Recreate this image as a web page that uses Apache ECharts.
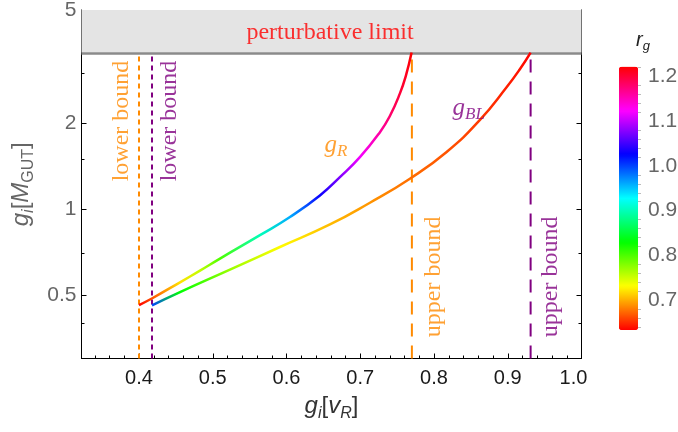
<!DOCTYPE html>
<html><head><meta charset="utf-8">
<script src="https://cdn.jsdelivr.net/npm/echarts@6/dist/echarts.min.js"></script>
<style>html,body{margin:0;padding:0;background:#fff}#c{width:678px;height:432px}</style>
</head><body><div id="c"></div>
<script>
// ---- data ----
const gR_x  = [0.400, 0.418, 0.4556, 0.4827, 0.5098, 0.5640, 0.6047, 0.6453, 0.6724, 0.6995, 0.7267, 0.740, 0.7538, 0.762, 0.7696];
const gR_y  = [0.462, 0.488, 0.555, 0.610, 0.672, 0.812, 0.940, 1.119, 1.297, 1.524, 1.865, 2.12, 2.55, 2.95, 3.545];
const gR_r  = [0.633, 0.665, 0.720, 0.755, 0.800, 0.900, 0.960, 1.030, 1.075, 1.120, 1.160, 1.180, 1.200, 1.210, 1.222];

const gBL_x = [0.4176, 0.4556, 0.5233, 0.5911, 0.6589, 0.7131, 0.7673, 0.8171, 0.8623, 0.8984, 0.9164, 0.931];
const gBL_y = [0.461, 0.513, 0.615, 0.738, 0.885, 1.055, 1.281, 1.590, 2.060, 2.68, 3.10, 3.545];
const gBL_r = [1.000, 0.830, 0.770, 0.730, 0.705, 0.690, 0.675, 0.665, 0.655, 0.645, 0.640, 0.633];

const perturbativeLimit = 3.545;
const boundValues = [0.400, 0.4176, 0.770, 0.931];   // gR lower, gBL lower, gR upper, gBL upper
const boundLabels = ['lower bound', 'lower bound', 'upper bound', 'upper bound'];

const xMajorTicks = [0.4, 0.5, 0.6, 0.7, 0.8, 0.9, 1.0];
const xMinorTicks = [0.34, 0.36, 0.38, 0.42, 0.44, 0.46, 0.48, 0.52, 0.54, 0.56, 0.58, 0.62, 0.64, 0.66, 0.68,
                     0.72, 0.74, 0.76, 0.78, 0.82, 0.84, 0.86, 0.88, 0.92, 0.94, 0.96, 0.98];
const yMajorTicks = [0.5, 1, 2, 5];
const yMinorTicks = [0.4, 0.7, 1.5, 3, 4];
const cbMajorTicks = [0.7, 0.8, 0.9, 1.0, 1.1, 1.2];
const cbMinorTicks = [0.64, 0.66, 0.68, 0.72, 0.74, 0.76, 0.78, 0.82, 0.84, 0.86, 0.88, 0.92, 0.94, 0.96, 0.98,
                      1.02, 1.04, 1.06, 1.08, 1.12, 1.14, 1.16, 1.18, 1.22];
const rMin = 0.633, rMax = 1.222;
const xMin = 0.322, xMax = 1.0, yMin = 0.3, yMax = 5;

// ---- helpers ----
const ORANGE = '#ff8a00', PURPLE = '#800080';
const hueStops = ['#ff0000', '#ffff00', '#00ff00', '#00ffff', '#0000ff', '#ff00ff', '#ff0000'];
function hueColor(r) {
  let h = (r - rMin) / (rMax - rMin);
  h = Math.max(0, Math.min(1, h)) * 6;
  const i = Math.min(5, Math.floor(h)), f = h - i;
  const seg = [[1, f, 0], [1 - f, 1, 0], [0, 1, f], [0, 1 - f, 1], [f, 0, 1], [1, 0, 1 - f]][i];
  return 'rgb(' + seg.map(v => Math.round(v * 255)).join(',') + ')';
}
function curveRenderer(xs, ys, rs) {
  return function (params, api) {
    if (params.dataIndex !== 0) return null;
    const pts = xs.map((x, i) => api.coord([x, ys[i]]));
    const p0 = pts[0], pn = pts[pts.length - 1];
    const dx = pn[0] - p0[0], dy = pn[1] - p0[1], L2 = dx * dx + dy * dy;
    let last = 0;
    const stops = pts.map((p, i) => {
      let t = ((p[0] - p0[0]) * dx + (p[1] - p0[1]) * dy) / L2;
      t = Math.max(last, Math.min(1, t)); last = t;
      return { offset: t, color: hueColor(rs[i]) };
    });
    return {
      type: 'polyline',
      shape: { points: pts, smooth: 0.5 },
      style: { fill: null, lineWidth: 2.5,
        stroke: new echarts.graphic.LinearGradient(p0[0], p0[1], pn[0], pn[1], stops, true) }
    };
  };
}
const frame = { show: true, lineStyle: { color: '#000', width: 1 } };
const fmt1 = v => v.toFixed(1);
const SANS = 'Liberation Sans', SERIF = 'Liberation Serif';

function xAx(pos, ticks, len, labels, extra) {
  return Object.assign({
    type: 'value', gridIndex: 0, position: pos, min: xMin, max: xMax,
    axisLine: labels !== null ? frame : { show: false },
    splitLine: { show: false },
    axisTick: { show: true, inside: true, length: len, customValues: ticks, lineStyle: { color: '#000', width: 1 } },
    axisLabel: { show: false }
  }, extra || {});
}
function yAx(pos, ticks, len, line, extra) {
  return Object.assign({
    type: 'log', logBase: 10, gridIndex: 0, position: pos, min: yMin, max: yMax,
    axisLine: line ? frame : { show: false },
    splitLine: { show: false }, minorTick: { show: false },
    axisTick: { show: true, inside: true, length: len, customValues: ticks, lineStyle: { color: '#000', width: 1 } },
    axisLabel: { show: false }
  }, extra || {});
}

const chart = echarts.init(document.getElementById('c'), null, { renderer: 'canvas' });
chart.setOption({
  animation: false,
  backgroundColor: '#fff',
  title: {
    text: '{r|r}{s|g}', left: 636, top: 27, padding: 0,
    textStyle: { fontWeight: 'normal', rich: {
      r: { fontFamily: SANS, fontStyle: 'italic', fontWeight: 'normal', fontSize: 20, color: '#222', lineHeight: 26, verticalAlign: 'middle' },
      s: { fontFamily: SANS, fontStyle: 'italic', fontWeight: 'normal', fontSize: 13, color: '#222', lineHeight: 26, verticalAlign: 'bottom' } } }
  },
  grid: [
    { left: 81.5, top: 10, width: 500, height: 348.5, outerBoundsMode: 'none' },
    { left: 619, top: 66.7, width: 19, height: 263.3, outerBoundsMode: 'none' }
  ],
  xAxis: [
    xAx('bottom', xMajorTicks, 5, true, {
      axisLabel: { show: true, customValues: xMajorTicks,
                   formatter: v => (Math.abs(v - 1) < 1e-9 ? '{e|' + fmt1(v) + '}' : fmt1(v)),
                   rich: { e: { fontFamily: SANS, fontSize: 20, color: '#1a1a1a', padding: [0, 16, 0, 0] } },
                   color: '#1a1a1a', fontFamily: SANS, fontSize: 20, margin: 10, showMinLabel: true, showMaxLabel: true },
      name: '{g|g}{s|i}{b|[}{g|v}{s|R}{b|]}', nameLocation: 'middle', nameGap: 33,
      nameTextStyle: { rich: {
        g: { fontFamily: SANS, fontStyle: 'italic', fontSize: 24, color: '#333', lineHeight: 30, verticalAlign: 'middle' },
        s: { fontFamily: SANS, fontStyle: 'italic', fontSize: 16, color: '#333', lineHeight: 30, verticalAlign: 'bottom' },
        b: { fontFamily: SANS, fontSize: 24, color: '#333', lineHeight: 30, verticalAlign: 'middle' } } }
    }),
    xAx('bottom', xMinorTicks, 3, null),
    xAx('top', xMajorTicks, 5, true),
    xAx('top', xMinorTicks, 3, null),
    { type: 'value', gridIndex: 1, min: 0, max: 1, show: false }
  ],
  yAxis: [
    yAx('left', yMajorTicks, 5, true, {
      axisLabel: { show: true, customValues: yMajorTicks, formatter: v => String(v), color: '#666',
                   fontFamily: SANS, fontSize: 21, margin: 5, showMinLabel: true, showMaxLabel: true },
      name: '{g|g}{si|i}{b|[}{g|M}{s|GUT}{b|]}', nameLocation: 'middle', nameGap: 40, nameRotate: 90,
      nameTextStyle: { rich: {
        g: { fontFamily: SANS, fontStyle: 'italic', fontSize: 24, color: '#666', lineHeight: 30, verticalAlign: 'middle' },
        si: { fontFamily: SANS, fontStyle: 'italic', fontSize: 16, color: '#666', lineHeight: 30, verticalAlign: 'bottom' },
        s: { fontFamily: SANS, fontSize: 16, color: '#666', lineHeight: 30, verticalAlign: 'bottom' },
        b: { fontFamily: SANS, fontSize: 24, color: '#666', lineHeight: 30, verticalAlign: 'middle' } } }
    }),
    yAx('left', yMinorTicks, 3, false),
    yAx('right', yMajorTicks, 5, true),
    yAx('right', yMinorTicks, 3, false),
    { type: 'value', gridIndex: 1, position: 'right', min: rMin, max: rMax,
      axisLine: { show: false }, splitLine: { show: false },
      axisTick: { show: true, inside: false, length: 5, customValues: cbMajorTicks, lineStyle: { color: '#999' } },
      axisLabel: { show: true, customValues: cbMajorTicks, formatter: fmt1, color: '#666',
                   fontFamily: SANS, fontSize: 21, margin: 10 } },
    { type: 'value', gridIndex: 1, position: 'right', min: rMin, max: rMax,
      axisLine: { show: false }, splitLine: { show: false },
      axisTick: { show: true, inside: false, length: 3, customValues: cbMinorTicks, lineStyle: { color: '#bbb' } },
      axisLabel: { show: false } }
  ],
  visualMap: [{
    type: 'continuous', min: rMin, max: rMax, dimension: 2, seriesIndex: [0, 1],
    left: 619, top: 66.7, itemWidth: 19, itemHeight: 263.3, padding: 0,
    calculable: false, hoverLink: false, text: null, showLabel: false,
    inRange: { color: hueStops }, outOfRange: { color: hueStops }
  }],
  series: [
    { type: 'custom', name: 'g_R', xAxisIndex: 0, yAxisIndex: 0, z: 10, clip: false,
      encode: { x: 0, y: 1 }, data: gR_x.map((x, i) => [x, gR_y[i], gR_r[i]]),
      renderItem: curveRenderer(gR_x, gR_y, gR_r) },
    { type: 'custom', name: 'g_BL', xAxisIndex: 0, yAxisIndex: 0, z: 10, clip: false,
      encode: { x: 0, y: 1 }, data: gBL_x.map((x, i) => [x, gBL_y[i], gBL_r[i]]),
      renderItem: curveRenderer(gBL_x, gBL_y, gBL_r) },
    // perturbative band + limit line
    { type: 'line', xAxisIndex: 0, yAxisIndex: 0, data: [], z: 1,
      markArea: { silent: true, itemStyle: { color: '#e4e4e4' },
        data: [[{ yAxis: perturbativeLimit }, { yAxis: yMax }]] },
      markLine: { silent: true, symbol: 'none', label: { show: false },
        lineStyle: { color: '#8a8a8a', width: 2.5, type: 'solid' },
        data: [{ yAxis: perturbativeLimit }] } },
    // bounds
    { type: 'line', xAxisIndex: 0, yAxisIndex: 0, symbol: 'none', z: 5, silent: true,
      lineStyle: { color: ORANGE, width: 2, type: [5, 4] },
      data: [[boundValues[0], yMin], [boundValues[0], perturbativeLimit]] },
    { type: 'line', xAxisIndex: 0, yAxisIndex: 0, symbol: 'none', z: 5, silent: true,
      lineStyle: { color: PURPLE, width: 2, type: [5, 4] },
      data: [[boundValues[1], yMin], [boundValues[1], perturbativeLimit]] },
    { type: 'line', xAxisIndex: 0, yAxisIndex: 0, symbol: 'none', z: 5, silent: true,
      lineStyle: { color: ORANGE, width: 2, type: [13, 9] },
      data: [[boundValues[2], yMin], [boundValues[2], perturbativeLimit]] },
    { type: 'line', xAxisIndex: 0, yAxisIndex: 0, symbol: 'none', z: 5, silent: true,
      lineStyle: { color: PURPLE, width: 2, type: [13, 9] },
      data: [[boundValues[3], yMin], [boundValues[3], perturbativeLimit]] },
    // text annotations
    { type: 'scatter', xAxisIndex: 0, yAxisIndex: 0, symbolSize: 0, z: 12, silent: true,
      label: { show: true, position: 'inside', fontFamily: SERIF, fontSize: 24 },
      data: [
        { value: [0.659, 4.16], label: { formatter: 'perturbative limit', color: '#ff0000' } },
        { value: [0.3766, 2.04], label: { formatter: boundLabels[0], color: ORANGE, rotate: 90 } },
        { value: [0.442, 2.04], label: { formatter: boundLabels[1], color: PURPLE, rotate: 90 } },
        { value: [0.7999, 0.58], label: { formatter: boundLabels[2], color: ORANGE, rotate: 90 } },
        { value: [0.958, 0.58], label: { formatter: boundLabels[3], color: PURPLE, rotate: 90 } },
        { value: [0.667, 1.675], label: { formatter: '{g|g}{s|R}', rich: {
            g: { fontFamily: SERIF, fontStyle: 'italic', fontSize: 25, color: ORANGE, lineHeight: 30, verticalAlign: 'middle' },
            s: { fontFamily: SERIF, fontStyle: 'italic', fontSize: 17, color: ORANGE, lineHeight: 30, verticalAlign: 'bottom' } } } },
        { value: [0.847, 2.257], label: { formatter: '{g|g}{s|BL}', rich: {
            g: { fontFamily: SERIF, fontStyle: 'italic', fontSize: 25, color: PURPLE, lineHeight: 30, verticalAlign: 'middle' },
            s: { fontFamily: SERIF, fontStyle: 'italic', fontSize: 17, color: PURPLE, lineHeight: 30, verticalAlign: 'bottom' } } } }
      ] }
  ]
});
</script></body></html>
